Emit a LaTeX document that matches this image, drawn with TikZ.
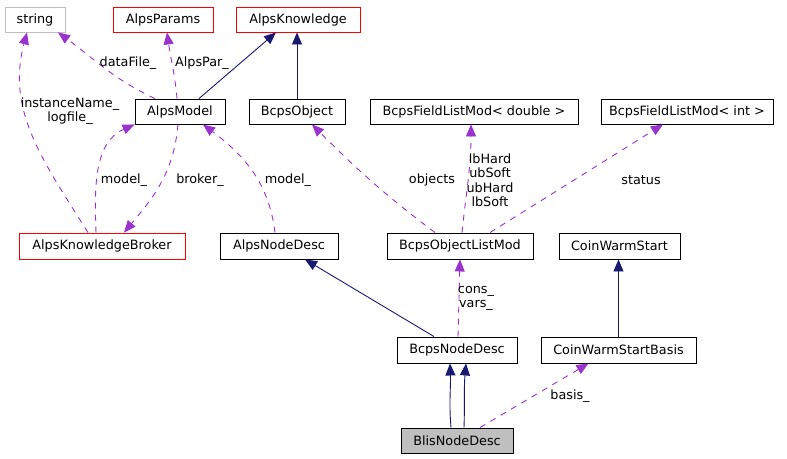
\documentclass[tikz,border=0pt]{standalone}
\usepackage{fontspec}
\setmainfont{DejaVu Sans}
\usetikzlibrary{arrows.meta}
\definecolor{navyc}{HTML}{191970}
\definecolor{purp}{HTML}{9A32CD}
\definecolor{greyb}{HTML}{BFBFBF}
\begin{document}
\begin{tikzpicture}[x=1pt,y=1pt,
  font=\fontsize{12.8}{14}\selectfont,
  box/.style={draw=black,line width=0.9pt,rectangle,minimum height=25pt,inner sep=0pt,fill=white},
  redbox/.style={box,draw=red},
  greybox/.style={box,draw=greyb},
  inh/.style={navyc,line width=0.9pt,-{Triangle[length=12pt,width=10pt]}},
  use/.style={purp,line width=0.9pt,dash pattern=on 6pt off 6pt,-{Triangle[length=12pt,width=10pt]}},
  lbl/.style={text=black,inner sep=0pt,align=center,font=\fontsize{12.8}{14.5}\selectfont}]
\useasboundingbox (0,0) rectangle (787,-458);
% nodes
\node[greybox,minimum width=60pt] (string) at (35,-19.5) {string};
\node[redbox,minimum width=100pt] (aparams) at (163,-19.5) {AlpsParams};
\node[redbox,minimum width=124pt] (aknow) at (298,-19.5) {AlpsKnowledge};
\node[box,minimum width=90pt] (amodel) at (180,-111.5) {AlpsModel};
\node[box,minimum width=96pt] (bobj) at (297,-111.5) {BcpsObject};
\node[box,minimum width=208pt] (bfld) at (474,-111.5) {BcpsFieldListMod< double >};
\node[box,minimum width=172pt] (bfli) at (687,-111.5) {BcpsFieldListMod< int >};
\node[redbox,minimum width=166pt,minimum height=26pt] (akb) at (102,-246) {AlpsKnowledgeBroker};
\node[box,minimum width=118pt,minimum height=26pt] (and) at (279,-246) {AlpsNodeDesc};
\node[box,minimum width=146pt,minimum height=26pt] (bolm) at (460,-246) {BcpsObjectListMod};
\node[box,minimum width=121pt,minimum height=26pt] (cws) at (619.5,-246) {CoinWarmStart};
\node[box,minimum width=120pt,minimum height=26pt] (bnd) at (457,-350) {BcpsNodeDesc};
\node[box,minimum width=155pt,minimum height=26pt] (cwsb) at (618.5,-350) {CoinWarmStartBasis};
\node[box,fill=greyb,minimum width=112pt] (blis) at (457,-440.5) {BlisNodeDesc};
% inheritance edges
\draw[inh] ([xshift=19pt]amodel.north) -- ([xshift=-22pt]aknow.south);
\draw[inh] (bobj.north) -- (bobj.north |- aknow.south);
\draw[inh] ([xshift=-23pt]bnd.north) -- ([xshift=26pt]and.south);
\draw[inh] (cwsb.north) -- (cwsb.north |- cws.south);
\draw[inh] ([xshift=-6pt]blis.north) to[out=95,in=-88] ([xshift=-7pt]bnd.south);
\draw[inh] ([xshift=7pt]blis.north) to[out=88,in=-95] ([xshift=9pt]bnd.south);
% usage edges
\draw[use] ([xshift=-25pt]amodel.north) to[out=155,in=-36] ([xshift=23pt]string.south);
\node[lbl] (l1) at (128,-63) {dataFile\_};
\draw[use] ([xshift=-3pt]amodel.north) to[out=95,in=-82] ([xshift=4pt]aparams.south);
\node[lbl] (l2) at (202,-63) {AlpsPar\_};
\draw[use] ([xshift=-14pt]akb.north) to[out=122,in=-105] ([xshift=-8pt]string.south);
\node[lbl] (l3) at (70,-111) {instanceName\_\\logfile\_};
\draw[use] ([xshift=-6pt]akb.north) to[out=92,in=-156] (amodel.south west);
\node[lbl] (l4) at (124,-180) {model\_};
\draw[use] ([xshift=-2pt]amodel.south) to[out=-95,in=50] ([xshift=22pt]akb.north);
\node[lbl] (l5) at (200,-180) {broker\_};
\draw[use] ([xshift=-4pt]and.north) to[out=97,in=-37] ([xshift=23pt]amodel.south);
\node[lbl] (l6) at (288,-180) {model\_};
\draw[use] ([xshift=-25pt]bolm.north) to[out=143,in=-45] ([xshift=15pt]bobj.south);
\node[lbl] (l7) at (432,-180) {objects};
\draw[use] ([xshift=2pt]bolm.north) to[out=84,in=-90] ([xshift=-3pt]bfld.south);
\node[lbl] (l8) at (490,-180) {lbHard\\ubSoft\\ubHard\\lbSoft};
\draw[use] ([xshift=30pt]bolm.north) -- ([xshift=-24pt]bfli.south);
\node[lbl] (l9) at (641,-180) {status};
\draw[use] ([xshift=1pt]bnd.north) -- (bolm.south);
\node[lbl] (l10) at (476,-298.5) {cons\_\\vars\_};
\draw[use] ([xshift=23pt]blis.north) -- ([xshift=-30pt]cwsb.south);
\node[lbl] (l11) at (570,-396) {basis\_};
\end{tikzpicture}
\end{document}
